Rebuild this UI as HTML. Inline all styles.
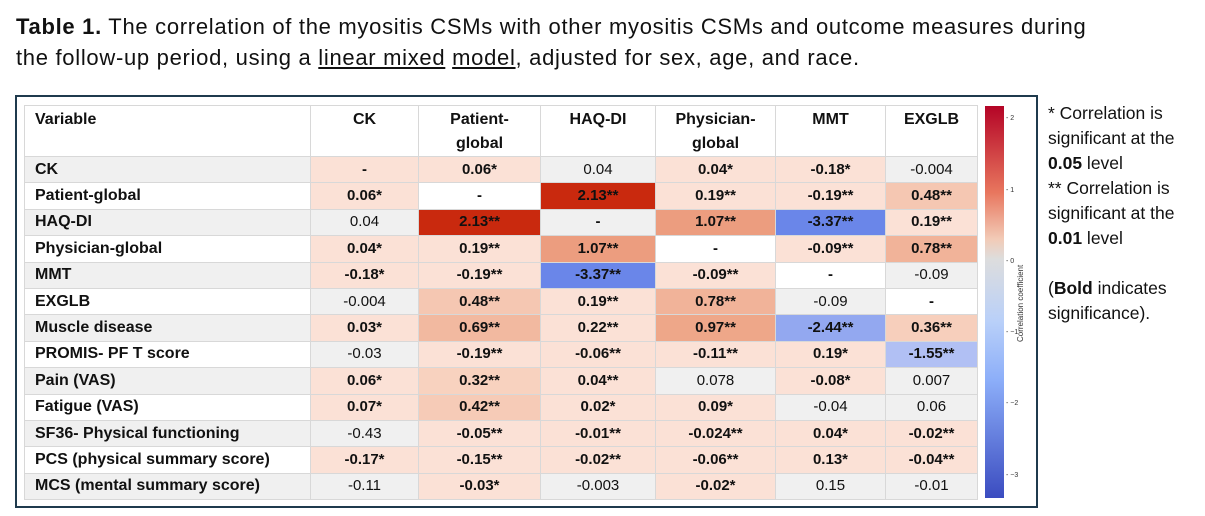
<!DOCTYPE html>
<html><head><meta charset="utf-8"><style>
body{margin:0;width:1205px;height:516px;background:#fff;font-family:"Liberation Sans",sans-serif;position:relative;overflow:hidden;color:#111}
#title{position:absolute;left:16px;top:11px;font-size:22px;line-height:31px;letter-spacing:0.7px;width:1180px;white-space:nowrap}
#title u{text-decoration:underline}
#box{position:absolute;left:15px;top:95px;width:1019px;height:409px;border:2px solid #1f3a4d}
table{position:absolute;left:24px;top:105px;border-collapse:collapse;table-layout:fixed}
td{border:1px solid #d8d8d8;font-size:15px;text-align:center;padding:0;height:25.4px;line-height:16px}
td.lab{text-align:left;padding-left:10px;font-weight:bold;font-size:16px}
tr.hd td{height:47px;vertical-align:top;font-weight:bold;font-size:16px;padding-top:2px;line-height:24px}
.b{font-weight:bold}
#cbar{position:absolute;left:985px;top:106px;width:19px;height:392px;background:linear-gradient(#b40426,#e8765e 22%,#f2cbb7 34%,#dddddd 39%,#b9d0f9 55%,#8caef9 70%,#3b4cc0)}
.tk{position:absolute;left:1006px;font-size:7px;color:#333}
#cblab{position:absolute;left:1016px;top:342px;font-size:8px;color:#333;transform:rotate(-90deg);transform-origin:left top;white-space:nowrap}
#notes{position:absolute;left:1048px;top:101px;font-size:17.5px;line-height:25px;width:160px}
</style></head><body>
<div id="title"><b>Table 1.</b> The correlation of the myositis CSMs with other myositis CSMs and outcome measures during<br>the follow-up period, using a <u>linear mixed</u> <u>model</u>, adjusted for sex, age, and race.</div>
<div id="box"></div>
<table id="tbl"></table>
<div id="cbar"></div>
<div id="cblab">Correlation coefficient</div>
<div id="notes">* Correlation is significant at the <b>0.05</b> level<br>** Correlation is significant at the <b>0.01</b> level<br><br>(<b>Bold</b> indicates significance).</div>
<script>
const columns=["CK","Patient-<br>global","HAQ-DI","Physician-<br>global","MMT","EXGLB"];
const rowsLabels=["CK","Patient-global","HAQ-DI","Physician-global","MMT","EXGLB","Muscle disease","PROMIS- PF T score","Pain (VAS)","Fatigue (VAS)","SF36- Physical functioning","PCS (physical summary score)","MCS (mental summary score)"];
const values=[
["-","0.06*","0.04","0.04*","-0.18*","-0.004"],
["0.06*","-","2.13**","0.19**","-0.19**","0.48**"],
["0.04","2.13**","-","1.07**","-3.37**","0.19**"],
["0.04*","0.19**","1.07**","-","-0.09**","0.78**"],
["-0.18*","-0.19**","-3.37**","-0.09**","-","-0.09"],
["-0.004","0.48**","0.19**","0.78**","-0.09","-"],
["0.03*","0.69**","0.22**","0.97**","-2.44**","0.36**"],
["-0.03","-0.19**","-0.06**","-0.11**","0.19*","-1.55**"],
["0.06*","0.32**","0.04**","0.078","-0.08*","0.007"],
["0.07*","0.42**","0.02*","0.09*","-0.04","0.06"],
["-0.43","-0.05**","-0.01**","-0.024**","0.04*","-0.02**"],
["-0.17*","-0.15**","-0.02**","-0.06**","0.13*","-0.04**"],
["-0.11","-0.03*","-0.003","-0.02*","0.15","-0.01"]];
const diagColors=["#fbe1d6","#ffffff","#f0f0f0","#ffffff","#ffffff","#ffffff"];
const ticks=[2,1,0,-1,-2,-3];
const widths=[286,108,122,115,120,110,92];
function hex(c){return [parseInt(c.slice(1,3),16),parseInt(c.slice(3,5),16),parseInt(c.slice(5,7),16)]}
function mix(a,b,t){a=hex(a);b=hex(b);return 'rgb('+a.map((x,i)=>Math.round(x+(b[i]-x)*t)).join(',')+')'}
function interp(stops,v){if(v<=stops[0][0])return stops[0][1];for(let i=1;i<stops.length;i++){if(v<=stops[i][0]){const t=(v-stops[i-1][0])/(stops[i][0]-stops[i-1][0]);return mix(stops[i-1][1],stops[i][1],t)}}return stops[stops.length-1][1]}
function color(s){if(s.indexOf('*')<0)return '#f0f0f0';const v=parseFloat(s);
if(v>=0.3)return interp([[0.3,'#f8d3c1'],[1.0,'#eea586'],[2.13,'#c9290e']],v);
if(v<=-1.0)return interp([[-3.37,'#6a86e9'],[-2.44,'#93a8f0'],[-1.0,'#c3cff6']],v);
return '#fbe1d6'}
const tbl=document.getElementById('tbl');
const cg=document.createElement('colgroup');
widths.forEach(w=>{const c=document.createElement('col');c.style.width=w+'px';cg.appendChild(c)});
tbl.appendChild(cg);
const hr=document.createElement('tr');hr.className='hd';


const h0=document.createElement('td');h0.className='lab';h0.textContent='Variable';


hr.appendChild(h0);
columns.forEach(c=>{const td=document.createElement('td');td.innerHTML=c;


hr.appendChild(td)});
tbl.appendChild(hr);
rowsLabels.forEach((r,i)=>{const tr=document.createElement('tr');


const l=document.createElement('td');l.className='lab';l.textContent=r;l.style.background=i%2==0?'#f0f0f0':'#fff';


tr.appendChild(l);
values[i].forEach((s,j)=>{const td=document.createElement('td');td.textContent=s;


if(s==='-'){td.style.background=diagColors[j];td.className='b'}else{td.style.background=color(s);if(s.indexOf('*')>=0)td.className='b'}
tr.appendChild(td)});
tbl.appendChild(tr)});
function ty(v){return 106+(2.2-v)/(2.2+3.3)*392}
ticks.forEach(t=>{const d=document.createElement('div');d.className='tk';d.textContent='- '+(t<0?'\u2212'+(-t):t);d.style.top=(ty(t)-5)+'px';


document.body.appendChild(d)});
</script>
</body></html>
